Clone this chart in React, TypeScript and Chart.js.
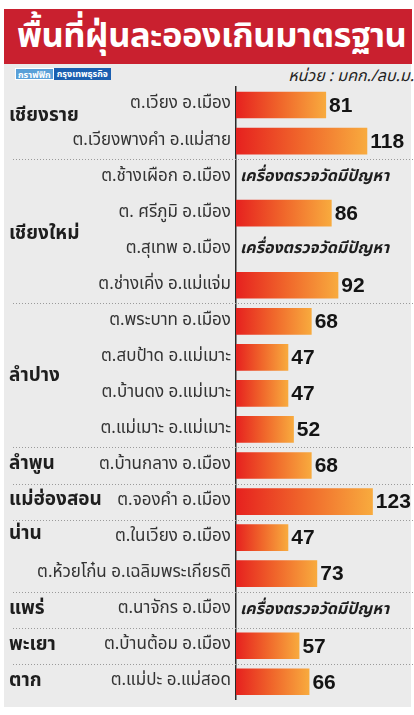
import React, { useEffect, useRef } from "react";
import { Chart, registerables } from "chart.js";
Chart.register(...registerables);

// ---------- data ----------
const titleText = "พื้นที่ฝุ่นละอองเกินมาตรฐาน";
const unitText = "หน่วย : มคก./ลบ.ม.";
const sourceTag = "กราฟฟิก";
const sourceName = "กรุงเทพธุรกิจ";
const brokenText = "เครื่องตรวจวัดมีปัญหา";

const stations = [
  "ต.เวียง อ.เมือง",
  "ต.เวียงพางคำ อ.แม่สาย",
  "ต.ช้างเผือก อ.เมือง",
  "ต. ศรีภูมิ อ.เมือง",
  "ต.สุเทพ อ.เมือง",
  "ต.ช่างเคิ่ง อ.แม่แจ่ม",
  "ต.พระบาท อ.เมือง",
  "ต.สบป้าด อ.แม่เมาะ",
  "ต.บ้านดง อ.แม่เมาะ",
  "ต.แม่เมาะ อ.แม่เมาะ",
  "ต.บ้านกลาง อ.เมือง",
  "ต.จองคำ อ.เมือง",
  "ต.ในเวียง อ.เมือง",
  "ต.ห้วยโก๋น อ.เฉลิมพระเกียรติ",
  "ต.นาจักร อ.เมือง",
  "ต.บ้านต้อม อ.เมือง",
  "ต.แม่ปะ อ.แม่สอด",
];

const provinces = ["เชียงราย", "เชียงใหม่", "ลำปาง", "ลำพูน", "แม่ฮ่องสอน", "น่าน", "แพร่", "พะเยา", "ตาก"];
const provinceStationCounts = [2, 4, 4, 1, 1, 2, 1, 1, 1];

const dustValues: (number | null)[] = [81, 118, null, 86, null, 92, 68, 47, 47, 52, 68, 123, 47, 73, null, 57, 66];

// ---------- style / layout ----------
const THAI = '"Noto Sans Thai", "Noto Sans", "DejaVu Sans", sans-serif';
const NUM = '"Liberation Sans", Arial, sans-serif';
const provinceNudge = [-6, 4, 2, 0, 0, -20, 0, 0, 0];

export default function App() {
  const ref = useRef<HTMLCanvasElement | null>(null);

  useEffect(() => {
    const canvas = ref.current;
    if (!canvas) return;

    const overlay = {
      id: "overlay",
      beforeDatasetsDraw(chart: any) {
        const { ctx } = chart;
        const y = chart.scales.y;
        ctx.save();
        ctx.strokeStyle = "#9a9a9a";
        ctx.lineWidth = 1;
        ctx.setLineDash([1, 2]);
        let idx = 0;
        for (let g = 0; g < provinceStationCounts.length - 1; g++) {
          idx += provinceStationCounts[g];
          const py = Math.round((y.getPixelForValue(idx - 1) + y.getPixelForValue(idx)) / 2) + 0.5;
          ctx.beginPath();
          ctx.moveTo(13, py);
          ctx.lineTo(414, py);
          ctx.stroke();
        }
        ctx.restore();
      },
      afterDatasetsDraw(chart: any) {
        const { ctx } = chart;
        const x = chart.scales.x;
        const y = chart.scales.y;
        ctx.save();
        ctx.textBaseline = "middle";
        dustValues.forEach((v, i) => {
          const py = y.getPixelForValue(i);
          if (v === null) {
            ctx.font = `italic bold 16px ${THAI}`;
            ctx.fillStyle = "#1e1e1e";
            ctx.textAlign = "left";
            ctx.fillText(brokenText, x.getPixelForValue(0) + 4, py + 1);
          } else {
            ctx.font = `bold 21px ${NUM}`;
            ctx.fillStyle = "#141414";
            ctx.textAlign = "left";
            ctx.fillText(String(v), x.getPixelForValue(v) + 3, py + 1);
          }
        });
        // province names
        let start = 0;
        provinces.forEach((p, g) => {
          const n = provinceStationCounts[g];
          let sum = 0;
          for (let k = start; k < start + n; k++) sum += y.getPixelForValue(k);
          const py = sum / n + provinceNudge[g];
          ctx.font = `bold 19px ${THAI}`;
          ctx.fillStyle = "#1e1e1e";
          ctx.textAlign = "left";
          ctx.fillText(p, 9, py);
          start += n;
        });
        ctx.restore();
      },
    };

    const chart = new Chart(canvas, {
      type: "bar",
      data: {
        labels: stations,
        datasets: [
          {
            data: dustValues as any,
            backgroundColor: (c: any) => {
              const ch = c.chart;
              if (!ch.chartArea || c.raw == null) return "#f05a28";
              const xs = ch.scales.x;
              const x0 = xs.getPixelForValue(0);
              const x1 = xs.getPixelForValue(c.raw);
              const grad = ch.ctx.createLinearGradient(x0, 0, x1, 0);
              grad.addColorStop(0, "#e6211f");
              grad.addColorStop(0.5, "#f0672b");
              grad.addColorStop(1, "#f8ab3e");
              return grad;
            },
            borderWidth: 0,
            barPercentage: 0.74,
            categoryPercentage: 1,
          },
        ],
      },
      options: {
        indexAxis: "y",
        responsive: false,
        animation: false,
        layout: { padding: { top: 87, bottom: 7, left: 0, right: 0 } },
        plugins: { legend: { display: false }, tooltip: { enabled: false } },
        scales: {
          x: { display: false, min: 0, max: 160 },
          y: {
            grid: { display: false, drawTicks: false },
            border: { display: true, color: "#2a2a2a", width: 1.5 },
            ticks: {
              color: "#333333",
              padding: 5,
              font: { family: THAI, size: 17 },
            },
            afterFit: (s: any) => {
              s.width = 236;
            },
          },
        },
      },
      plugins: [overlay],
    } as any);

    return () => chart.destroy();
  }, []);

  return (
    <div style={{ position: "fixed", left: 0, top: 0, width: 414, height: 715, background: "#ffffff", overflow: "hidden" }}>
      <div style={{ position: "absolute", left: 4, top: 9, width: 407, height: 698, background: "#ebebeb" }} />
      <div
        style={{
          position: "absolute",
          left: 4,
          top: 9,
          width: 408,
          height: 55,
          background: "#c9202f",
          color: "#fff",
          fontFamily: THAI,
          fontWeight: 700,
          fontSize: 34.5,
          letterSpacing: -0.5,
          lineHeight: "56px",
          paddingLeft: 13,
          boxSizing: "border-box",
          whiteSpace: "nowrap",
          overflow: "hidden",
        }}
      >
        {titleText}
      </div>
      <div style={{ position: "absolute", left: 15, top: 68, height: 12, display: "flex", fontFamily: THAI, fontSize: 9, fontWeight: 700, lineHeight: "12px" }}>
        <span style={{ background: "#5aa0d8", color: "#fff", padding: "0 2px", border: "1px solid #fff" }}>{sourceTag}</span>
        <span style={{ background: "#1b5fb0", color: "#fff", padding: "0 3px" }}>{sourceName}</span>
      </div>
      <div style={{ position: "absolute", right: 0, top: 64, fontFamily: THAI, fontStyle: "italic", fontSize: 16, color: "#222", whiteSpace: "nowrap" }}>
        {unitText}
      </div>
      <canvas ref={ref} width={414} height={715} style={{ position: "absolute", left: 0, top: 0 }} />
    </div>
  );
}
